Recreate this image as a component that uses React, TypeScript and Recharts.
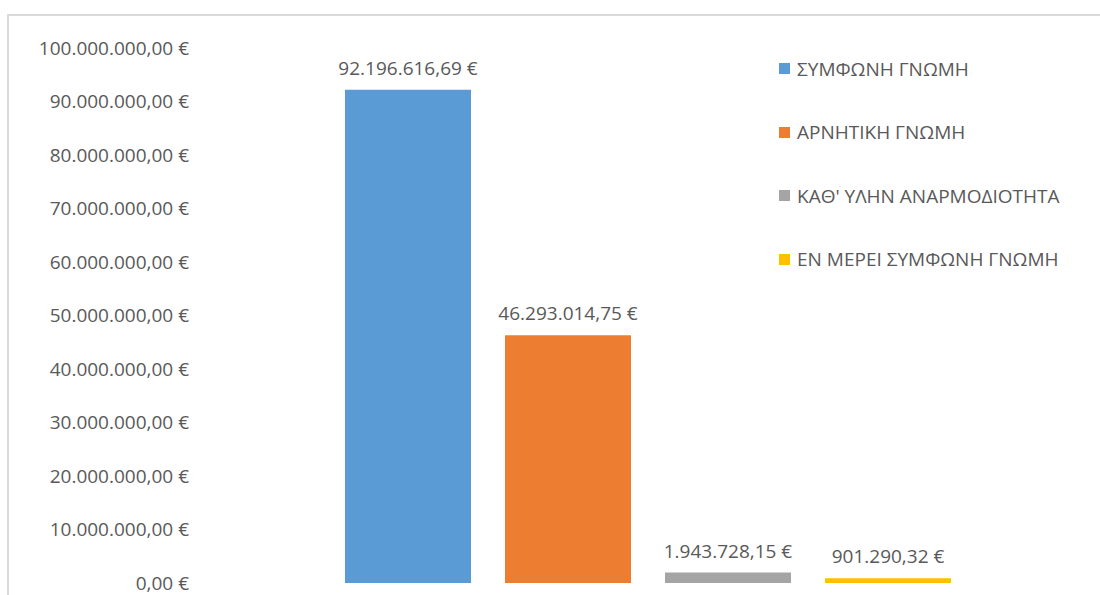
import { BarChart, Bar, XAxis, YAxis, LabelList } from "recharts";

const seriesNames = [
  "ΣΥΜΦΩΝΗ ΓΝΩΜΗ",
  "ΑΡΝΗΤΙΚΗ ΓΝΩΜΗ",
  "ΚΑΘ' ΥΛΗΝ ΑΝΑΡΜΟΔΙΟΤΗΤΑ",
  "ΕΝ ΜΕΡΕΙ ΣΥΜΦΩΝΗ ΓΝΩΜΗ",
];
const seriesValues = [92196616.69, 46293014.75, 1943728.15, 901290.32];
const seriesColors = ["#5B9BD5", "#ED7D31", "#A5A5A5", "#FFC000"];
const yTicks = [0, 10000000, 20000000, 30000000, 40000000, 50000000, 60000000, 70000000, 80000000, 90000000, 100000000];

const keys = ["s0", "s1", "s2", "s3"];
const data = [
  keys.reduce((row: any, k, i) => {
    row[k] = seriesValues[i];
    return row;
  }, { name: "all" }),
];

const FONT = "'Open Sans', sans-serif";
const TEXT = "#595959";
const FS = 19;

// greek-style euro format: 1.234.567,89 €
const euro = (v: number) => {
  const [int, dec] = Number(v).toFixed(2).split(".");
  return int.replace(/\B(?=(\d{3})+(?!\d))/g, ".") + "," + dec + " €";
};

// legend kept outside the chart so it doesn't shrink the plot area (it overlaps it in the original)
const LegendBox = () => (
  <div style={{ position: "absolute", left: 779, top: 37, fontFamily: FONT, fontSize: FS, color: TEXT }}>
    {seriesNames.map((n, i) => (
      <div key={n} style={{ height: 63.5, display: "flex", alignItems: "center", whiteSpace: "nowrap" }}>
        <span style={{ width: 11, height: 11, background: seriesColors[i], marginRight: 7, display: "inline-block" }} />
        {n}
      </div>
    ))}
  </div>
);

export default function App() {
  return (
    <div style={{ position: "absolute", left: 0, top: 0, width: 1100, height: 595, background: "#fff", overflow: "hidden" }}>
      <div style={{ position: "absolute", left: 7, top: 14, width: 1200, height: 700, borderTop: "2px solid #d9d9d9", borderLeft: "2px solid #d9d9d9" }} />
      <BarChart
        width={1100}
        height={595}
        data={data}
        margin={{ top: 48, right: 5, bottom: 12, left: 10 }}
        barGap={34}
        barCategoryGap={145}
        style={{ position: "absolute", left: 0, top: 0 }}
      >
        <XAxis dataKey="name" hide />
        <YAxis
          width={190}
          domain={[0, 100000000]}
          ticks={yTicks}
          interval={0}
          axisLine={false}
          tickLine={false}
          tickSize={0}
          tickMargin={11}
          tickFormatter={euro}
          tick={{ fill: TEXT, fontSize: FS, fontFamily: FONT }}
        />
        {keys.map((k, i) => (
          <Bar key={k} dataKey={k} name={seriesNames[i]} fill={seriesColors[i]} isAnimationActive={false}>
            <LabelList
              dataKey={k}
              position="top"
              offset={15}
              formatter={(v: any) => euro(v)}
              style={{ fill: TEXT, fontSize: FS, fontFamily: FONT }}
            />
          </Bar>
        ))}
      </BarChart>
      <LegendBox />
    </div>
  );
}
